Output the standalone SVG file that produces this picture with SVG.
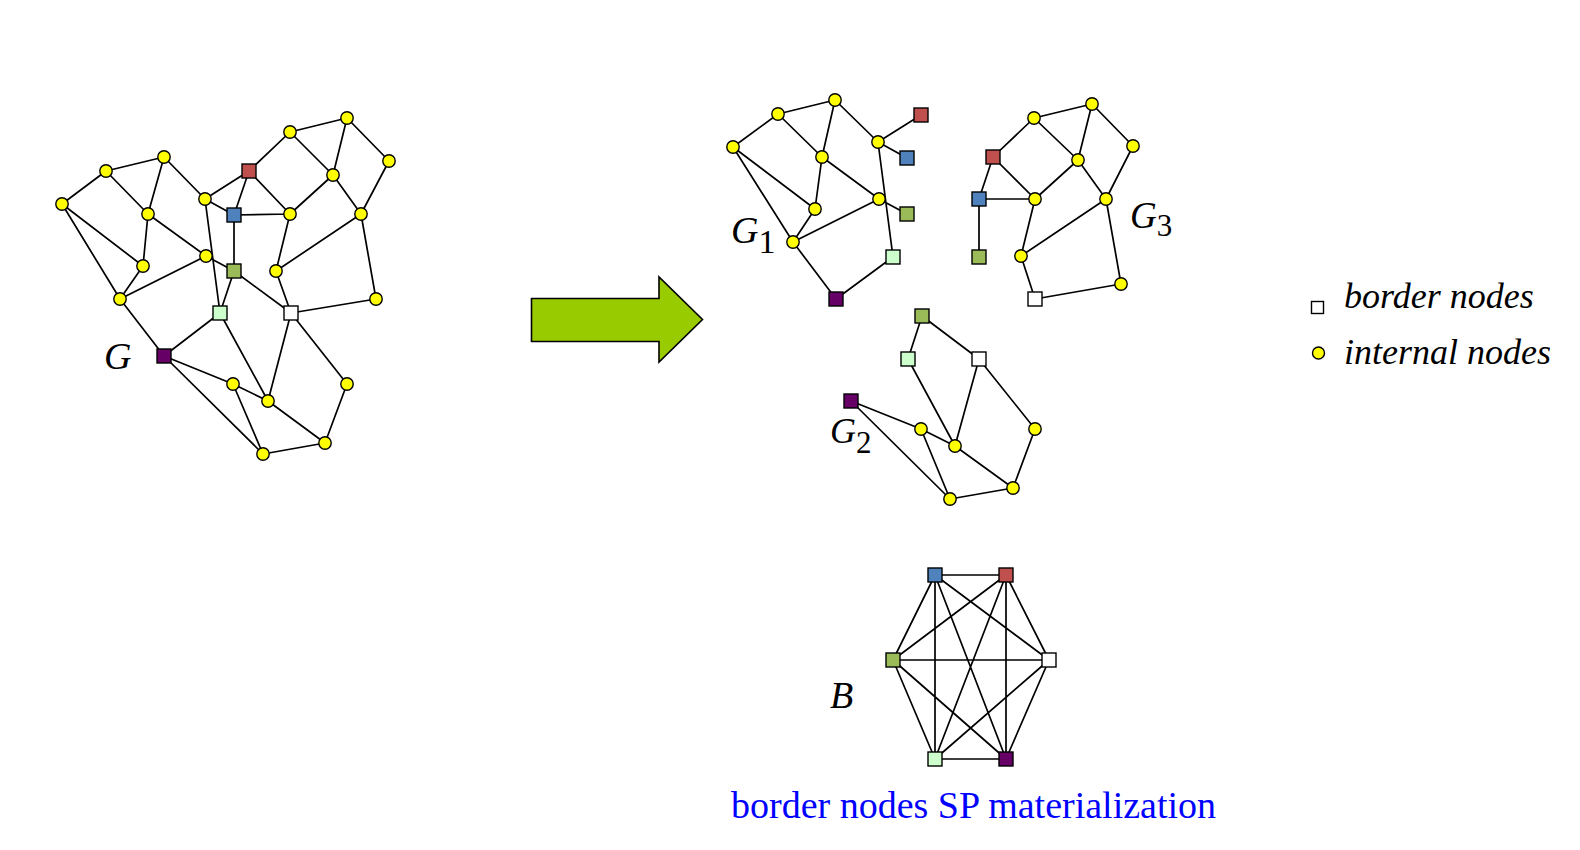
<svg xmlns="http://www.w3.org/2000/svg" width="1580" height="850" viewBox="0 0 1580 850">
<style>
.e{stroke:#000;stroke-width:1.7;fill:none}
.n{stroke:#000;stroke-width:1.4}
.y{fill:#FFFF00}
.R{fill:#C0504D}.Bl{fill:#4F81BD}.Gr{fill:#9BBB59}.LG{fill:#CCFFCC}.W{fill:#FFFFFF}.P{fill:#660066}
.lbl{font-family:"Liberation Serif","Times New Roman",serif;font-style:italic;fill:#000}
</style>
<defs>
<circle id="c" r="6.2" class="n y"/>
</defs>
<rect width="1580" height="850" fill="#fff"/>

<g id="connectors">
<!-- G -->
<path class="e" d="M62,204L106,171M106,171L164,157M62,204L143,266M62,204L120,299M106,171L148,214M164,157L148,214M164,157L205,199M148,214L143,266M148,214L206,256M143,266L120,299M120,299L206,256M120,299L164,356M205,199L249,171M205,199L234,215M205,199L220,313M206,256L234,271M249,171L234,215M249,171L290,132M249,171L290,214M234,215L290,214M234,215L234,271M234,271L220,313M234,271L291,313M220,313L164,356M220,313L268,401M290,132L347,118M290,132L333,175M347,118L333,175M347,118L389,161M389,161L361,214M333,175L361,214M333,175L290,214M290,214L276,271M361,214L276,271M361,214L376,299M276,271L291,313M291,313L376,299M291,313L268,401M291,313L347,384M164,356L233,384M164,356L263,454M233,384L268,401M233,384L263,454M268,401L325,443M347,384L325,443M325,443L263,454"/>
<!-- G1 -->
<path class="e" d="M733,147L778,114M778,114L835,100M733,147L815,209M733,147L793,242M778,114L822,157M835,100L822,157M835,100L878,142M822,157L815,209M822,157L879,199M815,209L793,242M793,242L879,199M793,242L836,299M878,142L921,115M878,142L907,158M878,142L893,257M879,199L907,214M893,257L836,299"/>
<!-- G3 -->
<path class="e" d="M993,157L979,199M993,157L1034,118M993,157L1035,199M979,199L1035,199M979,199L979,257M1034,118L1092,104M1034,118L1078,160M1092,104L1078,160M1092,104L1133,146M1133,146L1106,199M1078,160L1106,199M1078,160L1035,199M1035,199L1021,256M1106,199L1021,256M1106,199L1121,284M1021,256L1035,299M1035,299L1121,284"/>
<!-- G2 -->
<path class="e" d="M922,316L908,359M922,316L979,359M908,359L955,446M979,359L955,446M979,359L1035,429M851,401L921,429M851,401L950,499M921,429L955,446M921,429L950,499M955,446L1013,488M1035,429L1013,488M1013,488L950,499"/>
<!-- B -->
<path class="e" d="M935,575L1006,575M935,575L893,660M935,575L1049,660M935,575L935,759M935,575L1006,759M1006,575L893,660M1006,575L1049,660M1006,575L935,759M1006,575L1006,759M893,660L1049,660M893,660L935,759M893,660L1006,759M1049,660L935,759M1049,660L1006,759M935,759L1006,759"/>
</g>

<g id="arrow">
<polygon points="531.5,298.5 659,298.5 659,277 702.5,319.5 659,362 659,341.5 531.5,341.5" fill="#99CC00" stroke="#000" stroke-width="1.6"/>
</g>

<g id="graph-G">
<use href="#c" x="62" y="204"/><use href="#c" x="106" y="171"/><use href="#c" x="164" y="157"/><use href="#c" x="148" y="214"/>
<use href="#c" x="143" y="266"/><use href="#c" x="120" y="299"/><use href="#c" x="205" y="199"/><use href="#c" x="206" y="256"/>
<use href="#c" x="290" y="132"/><use href="#c" x="347" y="118"/><use href="#c" x="389" y="161"/><use href="#c" x="333" y="175"/>
<use href="#c" x="290" y="214"/><use href="#c" x="361" y="214"/><use href="#c" x="276" y="271"/><use href="#c" x="376" y="299"/>
<use href="#c" x="233" y="384"/><use href="#c" x="268" y="401"/><use href="#c" x="347" y="384"/><use href="#c" x="325" y="443"/><use href="#c" x="263" y="454"/>
<rect class="n R" x="242" y="164" width="14" height="14"/>
<rect class="n Bl" x="227" y="208" width="14" height="14"/>
<rect class="n Gr" x="227" y="264" width="14" height="14"/>
<rect class="n LG" x="213" y="306" width="14" height="14"/>
<rect class="n W" x="284" y="306" width="14" height="14"/>
<rect class="n P" x="157" y="349" width="14" height="14"/>
<text class="lbl" x="104" y="369" font-size="38">G</text>
</g>

<g id="graph-G1">
<use href="#c" x="733" y="147"/><use href="#c" x="778" y="114"/><use href="#c" x="835" y="100"/><use href="#c" x="822" y="157"/>
<use href="#c" x="815" y="209"/><use href="#c" x="793" y="242"/><use href="#c" x="878" y="142"/><use href="#c" x="879" y="199"/>
<rect class="n R" x="914" y="108" width="14" height="14"/>
<rect class="n Bl" x="900" y="151" width="14" height="14"/>
<rect class="n Gr" x="900" y="207" width="14" height="14"/>
<rect class="n LG" x="886" y="250" width="14" height="14"/>
<rect class="n P" x="829" y="292" width="14" height="14"/>
<text class="lbl" x="731" y="243" font-size="38">G<tspan font-style="normal" font-size="34" dy="10">1</tspan></text>
</g>

<g id="graph-G3">
<use href="#c" x="1034" y="118"/><use href="#c" x="1092" y="104"/><use href="#c" x="1133" y="146"/><use href="#c" x="1078" y="160"/>
<use href="#c" x="1035" y="199"/><use href="#c" x="1106" y="199"/><use href="#c" x="1021" y="256"/><use href="#c" x="1121" y="284"/>
<rect class="n R" x="986" y="150" width="14" height="14"/>
<rect class="n Bl" x="972" y="192" width="14" height="14"/>
<rect class="n Gr" x="972" y="250" width="14" height="14"/>
<rect class="n W" x="1028" y="292" width="14" height="14"/>
<text class="lbl" x="1130" y="228" font-size="37">G<tspan font-style="normal" font-size="31" dy="8">3</tspan></text>
</g>

<g id="graph-G2">
<use href="#c" x="921" y="429"/><use href="#c" x="955" y="446"/><use href="#c" x="1035" y="429"/><use href="#c" x="1013" y="488"/><use href="#c" x="950" y="499"/>
<rect class="n Gr" x="915" y="309" width="14" height="14"/>
<rect class="n LG" x="901" y="352" width="14" height="14"/>
<rect class="n W" x="972" y="352" width="14" height="14"/>
<rect class="n P" x="844" y="394" width="14" height="14"/>
<text class="lbl" x="830" y="443" font-size="36">G<tspan font-style="normal" font-size="31" dy="10">2</tspan></text>
</g>

<g id="graph-B">
<rect class="n Bl" x="928" y="568" width="14" height="14"/>
<rect class="n R" x="999" y="568" width="14" height="14"/>
<rect class="n Gr" x="886" y="653" width="14" height="14"/>
<rect class="n W" x="1042" y="653" width="14" height="14"/>
<rect class="n LG" x="928" y="752" width="14" height="14"/>
<rect class="n P" x="999" y="752" width="14" height="14"/>
<text class="lbl" x="830" y="708" font-size="38">B</text>
</g>

<g id="caption">
<text x="731" y="818" font-family="'Liberation Serif','Times New Roman',serif" font-size="38" fill="#0000FF">border nodes SP materialization</text>
</g>

<g id="legend">
<rect class="n W" x="1311.5" y="301.5" width="12" height="12"/>
<circle class="n y" cx="1318.5" cy="353" r="6"/>
<text class="lbl" x="1344" y="308" font-size="36">border nodes</text>
<text class="lbl" x="1344" y="364" font-size="36">internal nodes</text>
</g>
</svg>
